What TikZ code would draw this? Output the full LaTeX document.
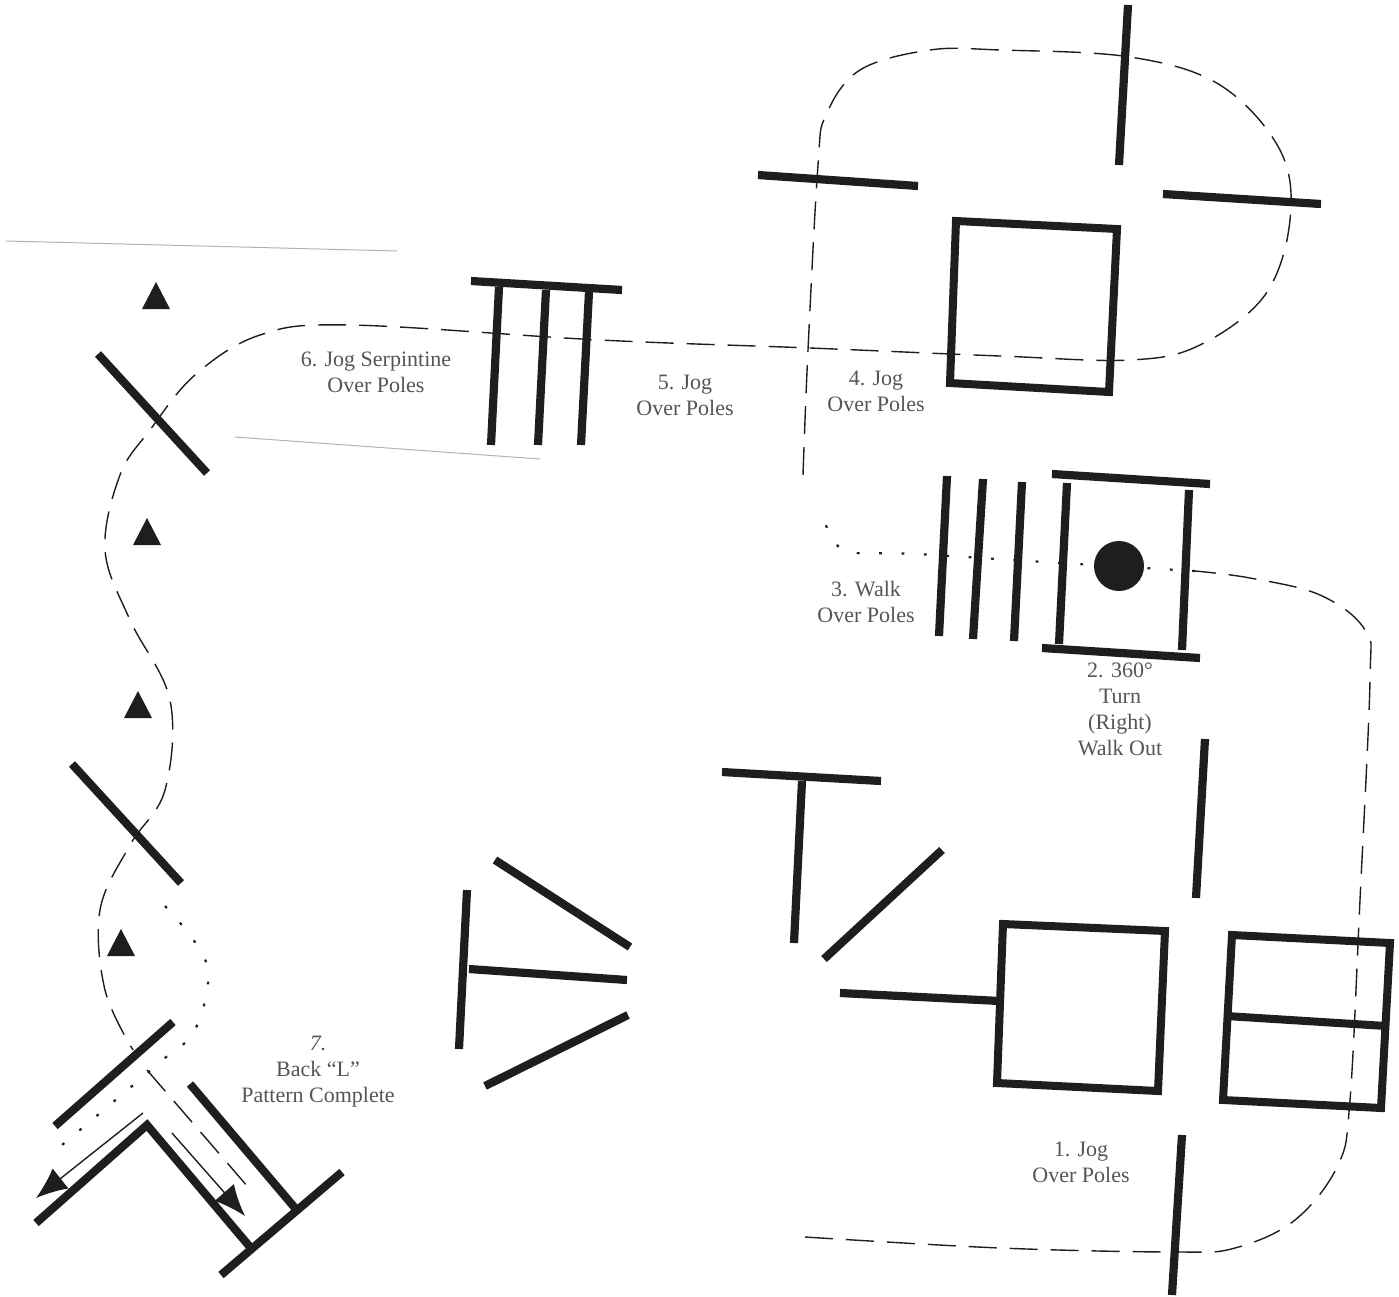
\documentclass[tikz,border=0pt]{standalone}
\usepackage{fontspec}
\setmainfont{Liberation Serif}
\usetikzlibrary{arrows.meta}
\definecolor{poleink}{HTML}{1E1E1E}
\definecolor{labelink}{HTML}{555555}
\begin{document}
\begin{tikzpicture}[
  x=0.5pt,y=-0.5pt,
  every node/.style={font=\fontsize{11}{13}\selectfont,align=center,text=labelink,inner sep=0pt},
  pole/.style={draw=poleink,line width=4.1pt,line cap=butt},
  box/.style={draw=poleink,line width=4pt,line join=miter},
  course/.style={draw=poleink,line width=0.7pt,dash pattern=on 14pt off 6.5pt},
  walkdots/.style={draw=poleink,line width=1.1pt,dash pattern=on 1.4pt off 9.8pt},
  lead/.style={draw=poleink,line width=0.7pt,-{Latex[length=5.5mm,width=4.5mm]}},
  rim/.style={draw=black!30,line width=0.5pt},
  marker/.style={fill=poleink,draw=none}
]
\useasboundingbox (0,0) rectangle (1399,1297);
% fence lines
\draw[rim] (6,241) -- (397,251);
\draw[rim] (235,437) -- (540,459);
% course
\draw[course] plot[smooth,tension=0.6] coordinates {(805,1237) (1000,1248) (1175,1252) (1235,1248) (1295,1220) (1338,1165) (1350,1100) (1360,900) (1370,680) (1365,630) (1320,595) (1250,578) (1195,571)};
\draw[walkdots] plot[smooth,tension=0.6] coordinates {(1195,571) (1060,563) (916,554) (849,552) (833,537) (822,518)};
\draw[course] plot[smooth,tension=0.6] coordinates {(803,475) (808,350) (818,165) (826,115) (860,70) (930,50) (1000,50) (1130,57) (1220,85) (1280,150) (1290,220) (1265,295) (1200,345) (1130,360) (1000,356) (810,348) (600,340) (350,325) (260,335) (195,375) (150,430) (120,475) (105,550) (130,620) (170,700) (165,790) (130,845) (100,910) (105,990) (133,1050)};
\draw[course] (147,1070) -- (248,1187);
\draw[walkdots] plot[smooth,tension=0.6] coordinates {(165,906) (207,965) (195,1030) (165,1058) (62,1145)};
% obstacle at the top right
\draw[pole] (1128,5) -- (1119,165);
\draw[pole] (758,175) -- (918,186);
\draw[pole] (1163,194) -- (1321,204);
\draw[box] (956,221) -- (1117,229) -- (1109,392) -- (950,383) -- cycle;
% poles 5
\draw[pole] (471,281) -- (622,290);
\draw[pole] (499,287) -- (491,445);
\draw[pole] (546,290) -- (538,445);
\draw[pole] (589,292) -- (581,445);
% serpentine
\draw[pole] (98,354) -- (207,473);
\draw[pole] (72,764) -- (181,883);
\foreach \mx/\my in {156/296,147/532,138/705,121/943}
  \fill[marker] (\mx-14,\my+13) -- (\mx,\my-14) -- (\mx+14,\my+13) -- cycle;
% walk poles and turn box
\draw[pole] (947,476) -- (939,636);
\draw[pole] (983,479) -- (973,639);
\draw[pole] (1022,482) -- (1014,641);
\draw[pole] (1052,474) -- (1210,484);
\draw[pole] (1067,483) -- (1059,644);
\draw[pole] (1189,490) -- (1182,650);
\draw[pole] (1042,648) -- (1200,658);
\fill[marker] (1119,566) circle [radius=25];
% start
\draw[pole] (1205,739) -- (1196,898);
\draw[pole] (722,772) -- (881,781);
\draw[pole] (802,781) -- (794,943);
\draw[pole] (942,850) -- (824,959);
\draw[pole] (840,993) -- (1000,1001);
\draw[box] (1003,924) -- (1165,931) -- (1158,1091) -- (997,1083) -- cycle;
\draw[box] (1232,935) -- (1390,943) -- (1381,1108) -- (1223,1100) -- cycle;
\draw[box] (1226,1016) -- (1386,1026);
\draw[pole] (1182,1135) -- (1172,1295);
% middle group
\draw[pole] (467,890) -- (459,1049);
\draw[pole] (469,969) -- (627,980);
\draw[pole] (495,860) -- (630,947);
\draw[pole] (485,1086) -- (628,1015);
% back L
\draw[pole] (173,1022) -- (55,1126);
\draw[pole] (36,1223) -- (147,1125) -- (250,1247);
\draw[pole] (190,1084) -- (295,1208);
\draw[pole] (342,1172) -- (221,1275);
\coordinate (backa) at (143,1113);
\coordinate (backb) at (36,1198);
\coordinate (backc) at (172,1133);
\coordinate (backd) at (245,1216);
\draw[lead] (backa) -- (backb);
\draw[lead] (backc) -- (backd);
% labels
\node (serp) at (376,372) {6. Jog Serpintine\\Over Poles};
\node (jogfive) at (685,395) {5. Jog\\Over Poles};
\node (jogfour) at (876,391) {4. Jog\\Over Poles};
\node (walkthree) at (866,602) {3. Walk\\Over Poles};
\node (turntwo) at (1120,709) {2. 360°\\Turn\\(Right)\\Walk Out};
\node (backl) at (318,1072) {\textit{7.}\\Back ``L''\\Pattern Complete};
\node (jogone) at (1081,1162) {1. Jog\\Over Poles};
\end{tikzpicture}
\end{document}
